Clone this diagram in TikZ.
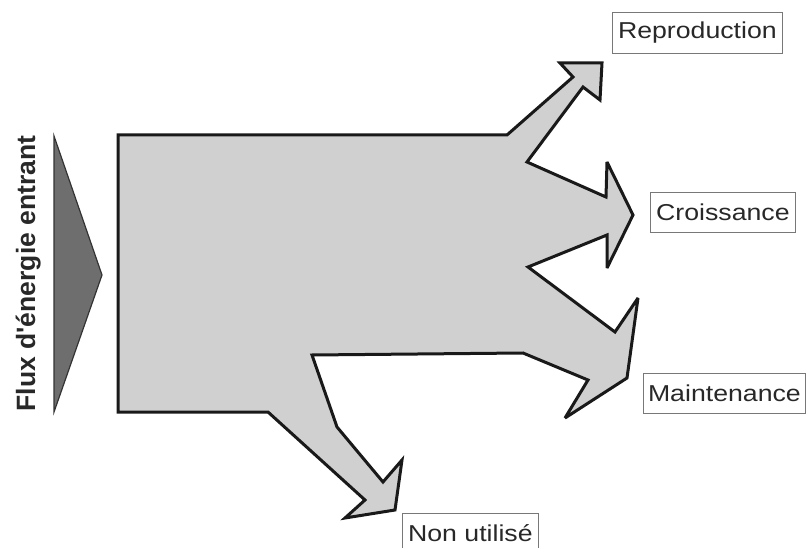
\documentclass[tikz,border=0pt]{standalone}
\usepackage{fontspec}
\setmainfont{Liberation Sans}
\definecolor{flowfill}{RGB}{208,208,208}
\definecolor{inflow}{RGB}{110,110,110}
\definecolor{boxline}{RGB}{120,120,120}
\definecolor{labeltext}{RGB}{40,40,40}
\tikzset{
  flow/.style={draw=black!90, fill=flowfill, line width=3pt, line join=miter, miter limit=4},
  source/.style={draw=black!80, fill=inflow, line width=1.2pt, line join=miter},
  outlabel/.style={draw=boxline, line width=0.8pt, inner sep=0pt, anchor=north west,
    text=labeltext, font=\fontsize{23}{26}\selectfont}
}
\newcommand{\wide}[1]{\scalebox{1.16}[1]{#1}}
\begin{document}
\begin{tikzpicture}[x=1pt, y=-1pt]
  \useasboundingbox (0,0) rectangle (806,548);
  \clip (0,0) rectangle (806,548);

  % incoming energy
  \draw[source] (54,136) -- (102,275) -- (54,412) -- cycle;
  \node[rotate=90, anchor=base, text=labeltext, font=\bfseries\fontsize{26.5}{30}\selectfont]
    (entree) at (35,273.5) {Flux d\textquotesingle énergie entrant};

  % partition of the energy flow
  \draw[flow] (118,135) -- (507,135)
    -- (573,77) -- (560,63) -- (602,63) -- (600,100) -- (583,87)
    -- (527,162)
    -- (606,197) -- (607,162) -- (633,215) -- (607,268) -- (607,235)
    -- (528,267)
    -- (615,332) -- (638,298) -- (627,378) -- (565,418) -- (588,380)
    -- (523,353) -- (312,355)
    -- (337,427) -- (383,482) -- (402,460) -- (395,510) -- (345,518) -- (365,500)
    -- (268,412) -- (118,412) -- cycle;

  % output labels
  \node[outlabel, minimum width=170pt, minimum height=41pt] (repro) at (612,12) {\wide{Reproduction}};
  \node[outlabel, minimum width=145pt, minimum height=40pt] (crois) at (650,192) {\wide{Croissance}};
  \node[outlabel, minimum width=162pt, minimum height=40pt] (maint) at (643,373) {\wide{Maintenance}};
  \node[outlabel, minimum width=136pt, minimum height=40pt] (nonut) at (402,513) {\wide{Non utilisé}};
\end{tikzpicture}
\end{document}
